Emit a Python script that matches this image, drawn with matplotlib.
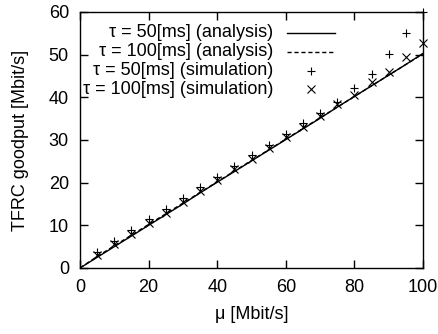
import matplotlib
matplotlib.use("Agg")
import matplotlib.pyplot as plt
from matplotlib.lines import Line2D

plt.rcParams['font.family'] = ['Liberation Sans', 'DejaVu Sans']

# analysis curves
mu_line = [0, 5, 10, 15, 20, 25, 30, 35, 40, 45, 50, 55, 60, 65, 70, 75, 80, 85, 90, 95, 100]
an50 = [0, 2.5, 5.0, 7.5, 10.0, 12.5, 15.0, 17.6, 20.1, 22.6, 25.1, 27.6, 30.1, 32.6, 35.1, 37.7, 40.2, 42.7, 45.2, 47.7, 50.3]
an100 = [0, 2.7, 5.2, 7.7, 10.2, 12.7, 15.2, 17.7, 20.2, 22.7, 25.2, 27.7, 30.2, 32.7, 35.2, 37.7, 40.2, 42.7, 45.2, 47.7, 50.2]

# simulation points
mu_sim = [5, 10, 15, 20, 25, 30, 35, 40, 45, 50, 55, 60, 65, 70, 75, 80, 85, 90, 95, 100]
sim50 = [3.8, 6.4, 8.9, 11.4, 13.9, 16.4, 18.9, 21.4, 23.9, 26.4, 28.9, 31.4, 33.9, 36.4, 38.9, 42.3, 45.4, 50.1, 55.0, 60.0]
sim100 = [3.0, 5.6, 8.0, 10.6, 13.0, 15.5, 18.0, 20.6, 23.1, 25.6, 28.1, 30.6, 33.1, 35.6, 38.4, 40.5, 43.5, 46.0, 49.4, 52.7]

labels = ["τ = 50[ms] (analysis)", "τ = 100[ms] (analysis)",
          "τ = 50[ms] (simulation)", "τ = 100[ms] (simulation)"]

FS = 13
MS_PLUS, MS_X = 6.0, 5.3

fig = plt.figure(figsize=(4.39, 3.34), dpi=100)
ax = fig.add_axes([80/439, 1 - 268/334, 343/439, 256/334])

ax.plot(mu_line, an50, color='black', lw=1.0, solid_capstyle='butt')
ax.plot(mu_line, an100, color='black', lw=1.0, linestyle=(0, (3, 2)))
ax.plot(mu_sim, sim50, linestyle='none', marker='+', ms=MS_PLUS, mew=0.8, color='black', clip_on=False)
ax.plot(mu_sim, sim100, linestyle='none', marker='x', ms=MS_X, mew=0.8, color='black', clip_on=False)

ax.set_xlim(0, 100)
ax.set_ylim(0, 60)
ax.set_xticks([0, 20, 40, 60, 80, 100])
ax.set_yticks([0, 10, 20, 30, 40, 50, 60])
ax.tick_params(direction='in', length=6, width=1.0, top=True, right=True,
               labelsize=FS, pad=8, colors='black')
for s in ax.spines.values():
    s.set_linewidth(1.0)

ax.set_xlabel("μ [Mbit/s]", fontsize=FS, labelpad=7)
ax.set_ylabel("TFRC goodput [Mbit/s]", fontsize=FS, labelpad=14)

# manual legend (gnuplot style: right-aligned text, sample to the right)
tx = 0.563
x0, x1 = 0.603, 0.743
xm = (x0 + x1) / 2
rows = [0.918, 0.844, 0.770, 0.699]
for lab, y in zip(labels, rows):
    ax.text(tx, y, lab, transform=ax.transAxes, ha='right', va='center', fontsize=FS)
ax.add_line(Line2D([x0, x1], [rows[0]] * 2, transform=ax.transAxes, color='black', lw=1.0))
ax.add_line(Line2D([x0, x1], [rows[1]] * 2, transform=ax.transAxes, color='black', lw=1.0,
                   linestyle=(0, (3, 2))))
ax.add_line(Line2D([xm], [rows[2]], transform=ax.transAxes, color='black', marker='+',
                   ms=MS_PLUS, mew=0.8, linestyle='none'))
ax.add_line(Line2D([xm], [rows[3]], transform=ax.transAxes, color='black', marker='x',
                   ms=MS_X, mew=0.8, linestyle='none'))

fig.savefig("out.png", dpi=100)
